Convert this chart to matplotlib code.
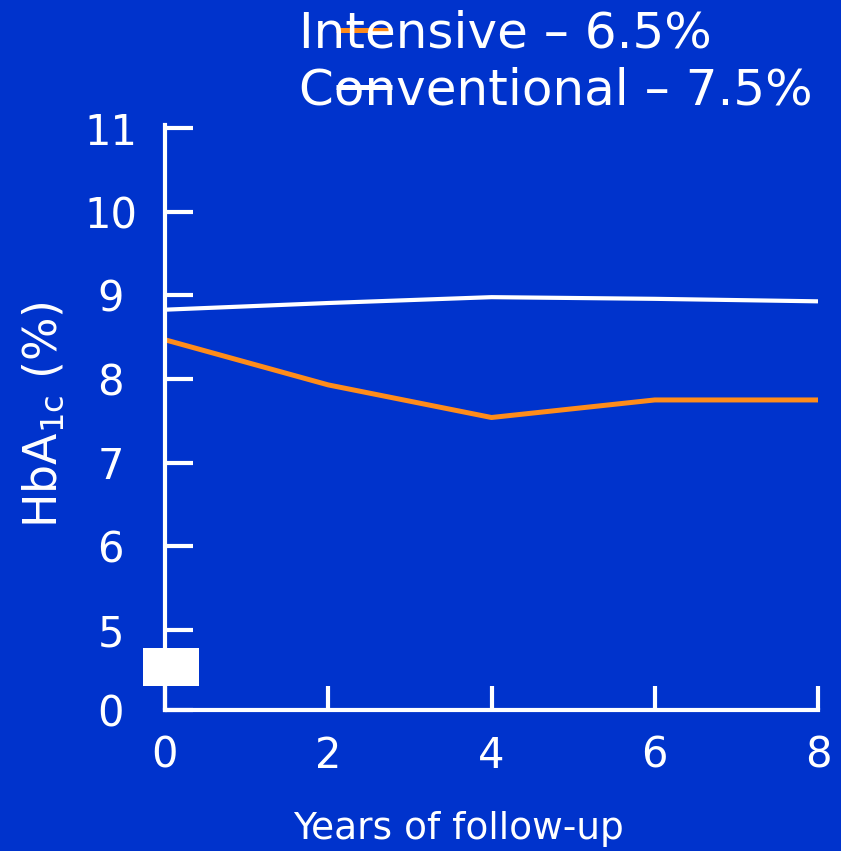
import matplotlib.pyplot as plt
from matplotlib.patches import Rectangle

# HbA1c by treatment arm over follow-up
years = [0, 2, 4, 6, 8]
intensive = [8.47, 7.93, 7.54, 7.75, 7.75]
conventional = [8.83, 8.91, 8.98, 8.96, 8.93]
series_labels = ['Intensive \u2013 6.5%', 'Conventional \u2013 7.5%']

# broken y axis: the "0" tick sits just below 5
ytick_pos = [4.04, 5, 6, 7, 8, 9, 10, 11]
ytick_labels = ['0', '5', '6', '7', '8', '9', '10', '11']

BG = '#0033CC'
ORANGE = '#FF8C1A'
WHITE = 'white'

plt.rcParams['font.family'] = 'DejaVu Sans'

fig = plt.figure(figsize=(8.41, 8.51), dpi=100, facecolor=BG)
ax = fig.add_axes([165 / 841, 141 / 851, 653 / 841, 585 / 851])
ax.set_facecolor(BG)

l1, = ax.plot(years, intensive, color=ORANGE, lw=3.6, solid_capstyle='butt', clip_on=False)
l2, = ax.plot(years, conventional, color=WHITE, lw=3.0, solid_capstyle='butt', clip_on=False)

ax.set_xlim(0, 8)
ax.set_ylim(4.04, 11.04)
ax.set_xticks(years)
ax.set_yticks(ytick_pos)
ax.set_yticklabels(ytick_labels, ha='center')

for s in ['top', 'right']:
    ax.spines[s].set_visible(False)
for s in ['left', 'bottom']:
    ax.spines[s].set_color(WHITE)
    ax.spines[s].set_linewidth(3)

ax.tick_params(axis='y', direction='in', length=20, width=3, color=WHITE,
               labelcolor=WHITE, labelsize=30, pad=39)
ax.tick_params(axis='x', direction='in', length=17, width=3, color=WHITE,
               labelcolor=WHITE, labelsize=30, pad=18)

fig.text(44 / 841, 1 - 415 / 851, 'HbA$_{\\mathregular{1c}}$ (%)', rotation=90,
         ha='center', va='center', color=WHITE, fontsize=33)
fig.text(458 / 841, 1 - 829 / 851, 'Years of follow-up', ha='center', va='center',
         color=WHITE, fontsize=27)

# white block marking the axis break
fig.patches.append(Rectangle((143 / 841, 1 - 686 / 851), 56 / 841, 38 / 851,
                             transform=fig.transFigure, facecolor=WHITE,
                             edgecolor='none', zorder=10))

leg = fig.legend([l1, l2], series_labels, loc='upper left',
                 bbox_to_anchor=(336 / 841, 0.989), frameon=False,
                 fontsize=36, handlelength=1.11, handletextpad=-1.85,
                 borderpad=0, borderaxespad=0, labelspacing=0.19, labelcolor=WHITE)
for h in leg.get_lines():
    h.set_linewidth(3.6)

fig.savefig('out.png', dpi=100, facecolor=BG)
